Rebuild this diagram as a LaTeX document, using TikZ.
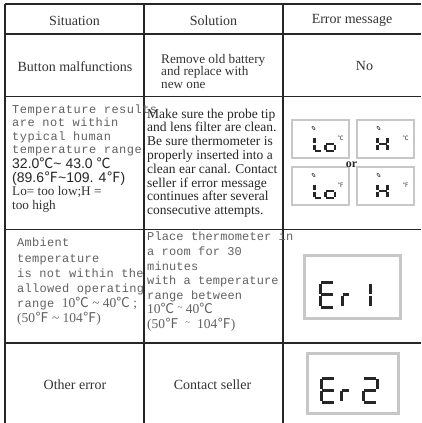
\documentclass[tikz,border=0pt]{standalone}
\usepackage{fontspec}
\setmainfont{Liberation Serif}
\newfontfamily\monoA[LetterSpace=4]{Liberation Mono}
\newfontfamily\monoB[LetterSpace=2.5]{Liberation Mono}
\newfontfamily\monoC[LetterSpace=1]{Liberation Mono}
\newfontfamily\sansf{Liberation Sans}
\newfontfamily\cjk{Noto Sans CJK SC}
\newcommand\degC{{\cjk ℃}}
\newcommand\degF{{\cjk ℉}}
\newcommand\serpart{\rmfamily\fontsize{13.5}{14}\selectfont}
\newcommand\rtil{\raisebox{3pt}{\fontsize{9}{9}\selectfont\textasciitilde}}
% seven-segment helper: x y w h style list-of-unit-segments
\newcommand\lcdsegs[6]{\foreach \xa/\ya/\xb/\yb in {#6}{\draw[#5] ({#1+\xa*#3},{#2+\ya*#4}) -- ({#1+\xb*#3},{#2+\yb*#4});}}
\begin{document}
\begin{tikzpicture}[x=1pt,y=-1pt,
  grid/.style={line width=1.5pt, draw=black!85},
  hd/.style={anchor=base, inner sep=0pt, text=black!80, font=\fontsize{14}{16}\selectfont},
  ser/.style={anchor=base west, inner sep=0pt, text=black!85, font=\fontsize{13.5}{14}\selectfont},
  sersm/.style={anchor=base west, inner sep=0pt, text=black!80, font=\fontsize{13.2}{14}\selectfont},
  mono/.style={anchor=base west, inner sep=0pt, text=black!62, font=\monoA\fontsize{12}{13}\selectfont},
  monob/.style={mono, font=\monoB\fontsize{12}{13}\selectfont},
  monoc/.style={mono, font=\monoC\fontsize{12}{13}\selectfont},
  sans/.style={anchor=base west, inner sep=0pt, text=black!85, font=\sansf\fontsize{14}{16}\selectfont},
  lcdbox/.style={draw=black!22, line width=2.5pt, fill=white},
  segs/.style={line width=2.5pt, black!85, line cap=butt},
  segb/.style={line width=3pt, black!85, line cap=butt},
  unit/.style={inner sep=0pt, text=black!80, font=\cjk\fontsize{6}{6}\selectfont},
  icon/.style={line width=0.6pt, draw=black!70}
]
\useasboundingbox (0,0) rectangle (421,423);
% grid
\coordinate (tl) at (5,4);   \coordinate (tr) at (421,4);
\coordinate (l1) at (5,34);  \coordinate (r1) at (421,34);
\coordinate (l2) at (5,96.5);  \coordinate (r2) at (421,96.5);
\coordinate (l3) at (5,229.5); \coordinate (r3) at (421,229.5);
\coordinate (l4) at (5,343); \coordinate (r4) at (421,343);
\coordinate (bl) at (5,423);
\coordinate (v1t) at (144,4); \coordinate (v1b) at (144,423);
\coordinate (v2t) at (283,4); \coordinate (v2b) at (283,423);
\draw[grid] (tl) -- (tr);
\draw[grid] (l1) -- (r1);
\draw[grid] (l2) -- (r2);
\draw[grid] (l3) -- (r3);
\draw[grid] (l4) -- (r4);
\draw[grid] (tl) -- (bl);
\draw[grid] (v1t) -- (v1b);
\draw[grid] (v2t) -- (v2b);

% header
\node[hd] (h1) at (74.5,25) {Situation};
\node[hd] (h2) at (213.5,25) {Solution};
\node[hd] (h3) at (352,23.5) {Error message};

% row 2
\node[hd] (b1) at (75,71) {Button malfunctions};
\node[sersm] (b2a) at (161,63.5) {Remove old battery};
\node[sersm] (b2b) at (161,75.8) {and replace with};
\node[sersm] (b2c) at (161,88) {new one};
\node[hd] (b3) at (364.5,70) {No};

% row 3 situation
\node[mono] (t1) at (12,113.3) {Temperature results};
\node[mono] (t2) at (12,126.8) {are not within};
\node[mono] (t3) at (12,140.3) {typical human};
\node[mono] (t4) at (12,153.8) {temperature range};
\node[sans] (t5) at (12,168) {32.0\degC\textasciitilde\ 43.0 \degC};
\node[sans] (t6) at (12,182) {(89.6\degF\textasciitilde109. 4\degF)};
\node[sersm] (t7) at (12,195.7) {Lo= too low;H =};
\node[sersm] (t8) at (12,209.3) {too high};
% row 3 solution
\node[ser] (s1) at (147,118) {Make sure the probe tip};
\node[ser] (s2) at (147,131.8) {and lens filter are clean.};
\node[ser] (s3) at (147,145.6) {Be sure thermometer is};
\node[ser] (s4) at (147,159.4) {properly inserted into a};
\node[ser] (s5) at (147,173.2) {clean ear canal. Contact};
\node[ser] (s6) at (147,187) {seller if error message};
\node[ser] (s7) at (147,200.8) {continues after several};
\node[ser] (s8) at (147,214.6) {consecutive attempts.};

% row 3 error displays
\draw[lcdbox] (292,120) rectangle (349,158);
\draw[lcdbox] (357,120) rectangle (414,158);
\draw[lcdbox] (292,167) rectangle (349,205);
\draw[lcdbox] (357,167) rectangle (414,205);
\node[anchor=base, inner sep=0pt, text=black!85, font=\bfseries\fontsize{12}{12}\selectfont] (or) at (351.5,167.5) {or};
% Lo C
\draw[icon] (313.5,128) ellipse [x radius=0.9, y radius=2.2, rotate=40];
\lcdsegs{314.7}{136.7}{7}{14.5}{segs}{0/0.08/0/0.45, 0/0.55/0/0.92, 0.1/1/0.9/1}
\lcdsegs{325.5}{136.7}{9.5}{14.5}{segs}{0.1/0.5/0.9/0.5, 1/0.55/1/0.92, 0.1/1/0.9/1, 0/0.55/0/0.92}
\node[unit] (u1) at (340.5,138.5) {℃};
% H C
\draw[icon] (378.5,128) ellipse [x radius=0.9, y radius=2.2, rotate=40];
\lcdsegs{377.5}{136.7}{10}{14.5}{segs}{0/0.08/0/0.45, 0/0.55/0/0.92, 1/0.08/1/0.45, 1/0.55/1/0.92, 0.1/0.5/0.9/0.5}
\node[unit] (u2) at (405.5,138.5) {℃};
% Lo F
\draw[icon] (313.5,175) ellipse [x radius=0.9, y radius=2.2, rotate=40];
\lcdsegs{314.7}{183.7}{7}{14.5}{segs}{0/0.08/0/0.45, 0/0.55/0/0.92, 0.1/1/0.9/1}
\lcdsegs{325.5}{183.7}{9.5}{14.5}{segs}{0.1/0.5/0.9/0.5, 1/0.55/1/0.92, 0.1/1/0.9/1, 0/0.55/0/0.92}
\node[unit] (u3) at (340.5,185.5) {℉};
% H F
\draw[icon] (378.5,175) ellipse [x radius=0.9, y radius=2.2, rotate=40];
\lcdsegs{377.5}{183.7}{10}{14.5}{segs}{0/0.08/0/0.45, 0/0.55/0/0.92, 1/0.08/1/0.45, 1/0.55/1/0.92, 0.1/0.5/0.9/0.5}
\node[unit] (u4) at (405.5,185.5) {℉};

% row 4 situation
\node[monob] (a1) at (17,246.3) {Ambient};
\node[monob] (a2) at (17,262.3) {temperature};
\node[monob] (a3) at (17,277.5) {is not within the};
\node[monob] (a4) at (17,292.3) {allowed operating};
\node[monob] (a5) at (17,307.3) {range {\serpart 10\degC\ \textasciitilde\ 40\degC\ ;}};
\node[monob, font=\serpart] (a6) at (17,322.3) {(50\degF\ \textasciitilde\ 104\degF)};
% row 4 solution
\node[monoc] (p1) at (147,240.5) {Place thermometer in};
\node[monoc] (p2) at (147,255.3) {a room for 30};
\node[monoc] (p3) at (147,270) {minutes};
\node[monoc] (p4) at (147,284.7) {with a temperature};
\node[monoc] (p5) at (147,299.2) {range between};
\node[monoc, font=\serpart] (p6) at (147,313.6) {10\degC\ \rtil\ 40\degC};
\node[monoc, font=\serpart] (p7) at (147,328) {(50\degF\ \ \rtil\ \ 104\degF)};
% Er1 display
\draw[lcdbox, line width=3pt] (304,255) rectangle (400,318);
\lcdsegs{320}{282}{14}{25}{segb}{0.1/0/0.9/0, 0/0.06/0/0.46, 0/0.54/0/0.94, 0.1/0.5/0.9/0.5, 0.1/1/0.9/1}
\lcdsegs{342}{282}{8}{25}{segb}{0.1/0.5/0.9/0.5, 0/0.54/0/0.94}
\lcdsegs{362}{282}{8}{25}{segb}{1/0.06/1/0.46, 1/0.54/1/0.94}

% row 5
\node[hd] (o1) at (75,389) {Other error};
\node[hd] (o2) at (212.5,389) {Contact seller};
\draw[lcdbox, line width=3pt] (307,353) rectangle (398,413);
\lcdsegs{321}{378}{14}{24}{segb}{0.1/0/0.9/0, 0/0.06/0/0.46, 0/0.54/0/0.94, 0.1/0.5/0.9/0.5, 0.1/1/0.9/1}
\lcdsegs{341}{378}{9}{24}{segb}{0.1/0.5/0.9/0.5, 0/0.54/0/0.94}
\lcdsegs{363}{378}{14}{24}{segb}{0.1/0/0.9/0, 1/0.06/1/0.46, 0.1/0.5/0.9/0.5, 0/0.54/0/0.94, 0.1/1/0.9/1}
\end{tikzpicture}
\end{document}
